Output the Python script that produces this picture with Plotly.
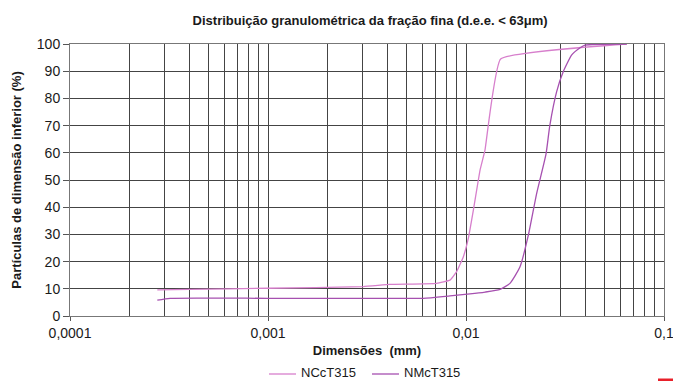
import numpy as np
import plotly.graph_objects as go

# NCcT315 (pink)
ncc_x = [0.000276, 0.0004, 0.001, 0.00303, 0.00413, 0.0071, 0.0083, 0.00897, 0.0097,
         0.01028, 0.0109, 0.01178, 0.01247, 0.01496, 0.0649]
ncc_y = [9.6, 9.8, 10.2, 10.8, 11.6, 12.0, 13.2, 16.3, 21.8,
         28.6, 39.0, 53.7, 61.0, 94.5, 100.0]

# NMcT315 (purple)
nmc_x = [0.000276, 0.00032, 0.001, 0.003, 0.00608, 0.0083, 0.01047, 0.0125, 0.01486, 0.01667,
         0.01874, 0.02066, 0.02275, 0.02535, 0.0265, 0.0287, 0.03097, 0.0342,
         0.0377, 0.0399, 0.0649]
nmc_y = [5.8, 6.5, 6.5, 6.5, 6.5, 7.4, 8.1, 8.8, 9.8, 12.0,
         18.1, 29.8, 45.1, 59.5, 70.0, 82.5, 89.8, 96.0,
         98.6, 99.6, 100.0]

x_tickvals = [0.0001, 0.001, 0.01, 0.1]
x_ticktext = ["0,0001", "0,001", "0,01", "0,1"]
y_tickvals = [0, 10, 20, 30, 40, 50, 60, 70, 80, 90, 100]
series_names = ["NCcT315", "NMcT315"]
series_colors = ["#d77fcc", "#a650b0"]

minor_vals = [m * 10.0 ** e for e in (-4, -3, -2) for m in range(2, 10)]

FONT = "Liberation Sans, Arial, sans-serif"
GRID = "#444444"

fig = go.Figure()
fig.add_trace(go.Scatter(x=ncc_x, y=ncc_y, mode="lines", name=series_names[0],
                         line=dict(color=series_colors[0], width=1.3, shape="spline", smoothing=0.3)))
fig.add_trace(go.Scatter(x=nmc_x, y=nmc_y, mode="lines", name=series_names[1],
                         line=dict(color=series_colors[1], width=1.3, shape="spline", smoothing=0.5)))

# Manual legend (pixel layout converted to paper coordinates)
L, T, W, H = 70, 44, 594, 272
def px(x):
    return (x - L) / W
def py(y):
    return (T + H - y) / H

shapes = []
annotations = []
leg_items = [(269, 296, 300), (372, 399, 403)]
for (x0, x1, tx), name, col in zip(leg_items, series_names, series_colors):
    shapes.append(dict(type="line", xref="paper", yref="paper", x0=px(x0), x1=px(x1),
                       y0=py(374), y1=py(374), line=dict(color=col, width=1.3)))
    annotations.append(dict(text=name, xref="paper", yref="paper", x=px(tx), y=py(381),
                            xanchor="left", yanchor="bottom", showarrow=False, borderpad=0,
                            font=dict(size=13, family=FONT, color="#1a1a1a")))
shapes.append(dict(type="line", xref="paper", yref="paper", x0=px(658), x1=px(673),
                   y0=py(380), y1=py(380), line=dict(color="#e8202a", width=3)))

fig.update_layout(
    width=673, height=381,
    margin=dict(l=L, r=673 - L - W, t=T, b=381 - T - H),
    paper_bgcolor="white", plot_bgcolor="white",
    font=dict(family=FONT, color="#1a1a1a", size=14),
    title=dict(text="<b>Distribuição granulométrica da fração fina (d.e.e. < 63μm)</b>",
               x=0.55, xanchor="center", y=0.947, yanchor="middle",
               font=dict(size=13, family=FONT, color="#1a1a1a")),
    showlegend=False,
    xaxis=dict(type="log", range=[-4, -1], tickmode="array",
               tickvals=x_tickvals, ticktext=x_ticktext,
               ticks="outside", ticklen=4, tickcolor="#555", ticklabeloverflow="allow",
               showgrid=True, gridcolor=GRID, gridwidth=1,
               minor=dict(tickmode="array", tickvals=minor_vals, showgrid=True,
                          gridcolor=GRID, gridwidth=1, ticks=""),
               showline=True, linecolor="#777", mirror=True, zeroline=False,
               title=dict(text="<b>Dimensões  (mm)</b>", font=dict(size=13, family=FONT),
                          standoff=6),
               tickfont=dict(size=14), automargin=False),
    yaxis=dict(range=[0, 100], tickmode="array", tickvals=y_tickvals,
               ticks="outside", ticklen=6, tickcolor="#555",
               showgrid=True, gridcolor=GRID, gridwidth=1,
               showline=True, linecolor="#777", mirror=True, zeroline=False,
               title=dict(text="<b>Partículas de dimensão inferior (%)</b>",
                          font=dict(size=13, family=FONT), standoff=12),
               tickfont=dict(size=14), automargin=False),
    shapes=shapes,
    annotations=annotations,
)

fig.write_html("out.html")
